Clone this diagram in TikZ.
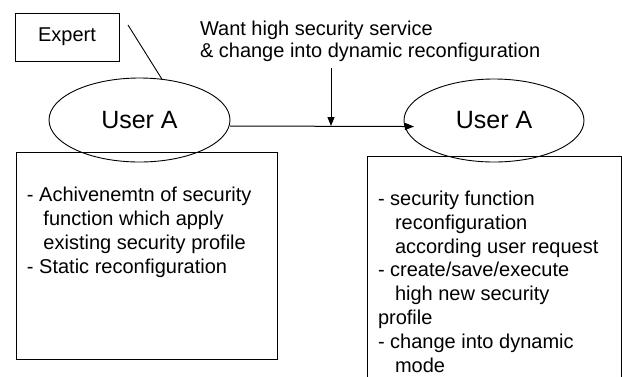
\documentclass[tikz,border=0pt]{standalone}
\usepackage{fontspec}
\setmainfont{Liberation Sans}
\usetikzlibrary{arrows.meta,shapes.geometric}
\begin{document}
\begin{tikzpicture}[x=1pt,y=-1pt,
  every node/.style={inner sep=0pt,outer sep=0pt},
  ln/.style={line width=1pt},
  small/.style={font=\fontsize{20}{24}\selectfont},
  user/.style={draw,ellipse,line width=0.9pt,font=\fontsize{25}{30}\selectfont},
  txt/.style={small,anchor=base west,align=left},
  arr/.style={ln,-{Triangle[length=9pt,width=7pt]}}]
\useasboundingbox (0,0) rectangle (622,376);
% Expert box and callout line
\node[draw,ln,small,minimum width=104pt,minimum height=48pt] (expert) at (67,37) {Expert};
% users
\node[user,minimum width=181pt,minimum height=84pt] (ua1) at (139.5,120) {User A};
\node[user,minimum width=180pt,minimum height=83pt] (ua2) at (494,120.5) {User A};
\coordinate (ex) at (128,25);
\draw[line width=0.9pt] (ex) -- (ua1.61);
% title (anchored at the baseline of its last line)
\node[txt,font=\fontsize{20}{21.5}\selectfont] (title) at (200,57.2)
  {Want high security service\\\& change into dynamic reconfiguration};
% arrows
\draw[arr,shorten >=-10pt] ([yshift=-6pt]ua1.east) -- ([yshift=-6pt]ua2.west);
\coordinate (vs) at (331,68);
\coordinate (vj) at (331,126);
\draw[arr] (vs) -- (vj);
% boxes
\node[draw,ln,minimum width=261pt,minimum height=207.5pt] (box1) at (146.5,255.75) {};
\draw[ln] (367.5,156) -- (621,156) -- (621,382) (367.5,156) -- (367.5,382);
\coordinate (box2) at (367.5,156);
% texts (anchored at the baseline of their last line)
\node[txt] (t1) at (27,273)
  {- Achivenemtn of security\\\hspace*{16.5pt}function which apply\\\hspace*{16.5pt}existing security profile\\- Static reconfiguration};
\node[txt,font=\fontsize{20}{23.8}\selectfont] (t2) at (378,372)
  {- security function\\\hspace*{17pt}reconfiguration\\\hspace*{17pt}according user request\\- create/save/execute\\\hspace*{17pt}high new security\\profile\\- change into dynamic\\\hspace*{17pt}mode};
\end{tikzpicture}
\end{document}
